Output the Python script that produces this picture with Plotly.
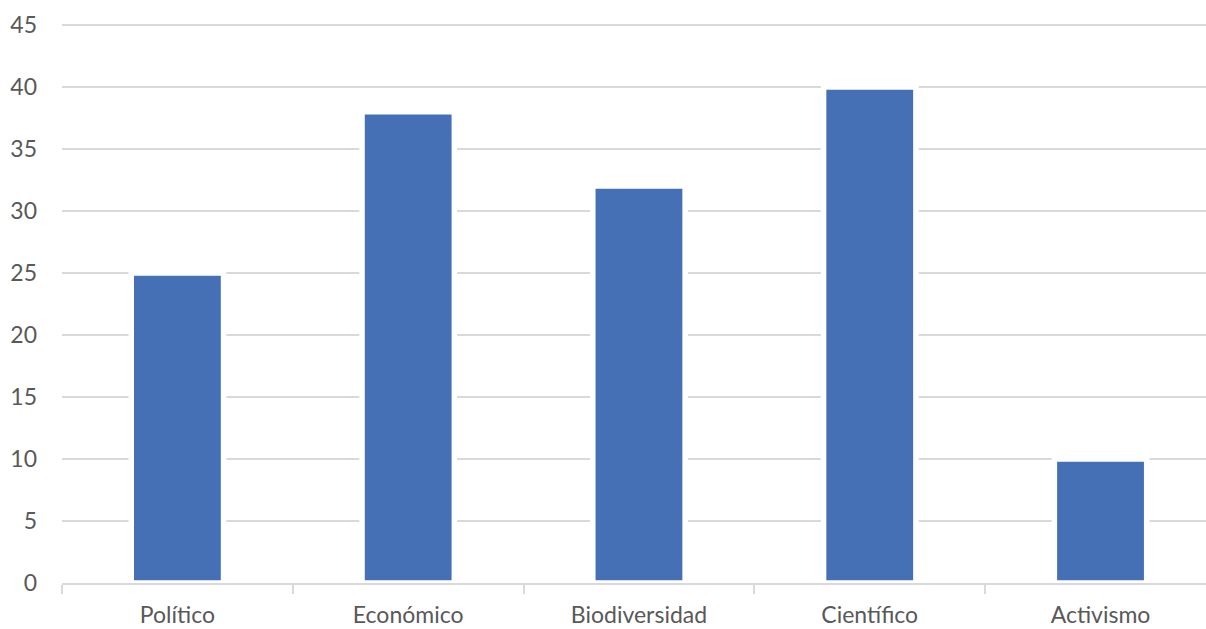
import plotly.graph_objects as go

# Categories and counts
categorias = ["Político", "Económico", "Biodiversidad", "Científico", "Activismo"]
valores = [25, 38, 32, 40, 10]
ticks_y = [0, 5, 10, 15, 20, 25, 30, 35, 40, 45]

texto = "#595959"
rejilla = "#d9d9d9"

fig = go.Figure(
    go.Bar(
        x=categorias,
        y=valores,
        width=0.4,
        marker=dict(color="#4570B5", line=dict(color="white", width=5.5)),
        hoverinfo="skip",
    )
)

fig.update_layout(
    width=1206,
    height=629,
    margin=dict(l=62, r=0, t=23, b=46),
    paper_bgcolor="white",
    plot_bgcolor="white",
    showlegend=False,
    font=dict(family="Lato, Open Sans, sans-serif", size=23, color=texto),
)

fig.update_xaxes(
    range=[-0.5, 4.457],
    showgrid=False,
    showline=True,
    linecolor=rejilla,
    linewidth=1.5,
    ticks="outside",
    tickson="boundaries",
    ticklen=9,
    tickwidth=1.5,
    tickcolor=rejilla,
    ticklabelstandoff=11,
    tickfont=dict(size=23, color=texto),
)

fig.update_yaxes(
    range=[0, 45.15],
    tickvals=ticks_y,
    showgrid=True,
    gridcolor=rejilla,
    gridwidth=1.8,
    zeroline=False,
    showline=False,
    ticks="",
    ticklabelstandoff=24,
    tickfont=dict(size=23, color=texto),
)

fig.write_html("out.html")
